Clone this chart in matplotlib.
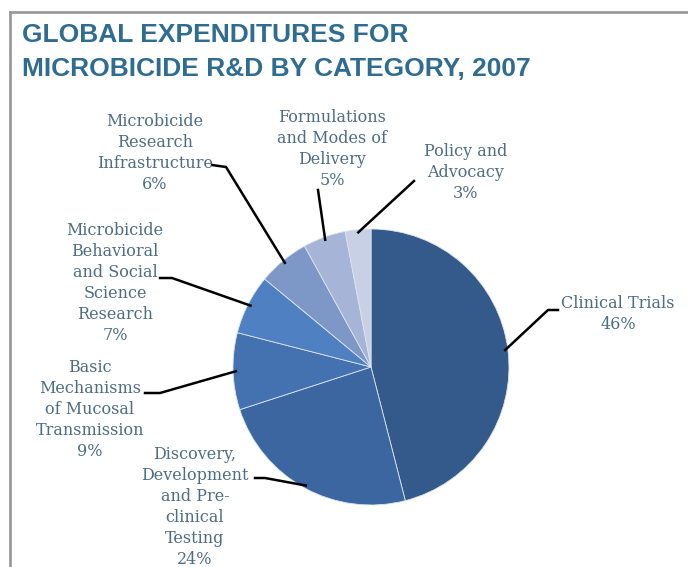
import numpy as np
import matplotlib
matplotlib.use("Agg")
import matplotlib.pyplot as plt

categories = [
    "Clinical Trials",
    "Discovery,\nDevelopment\nand Pre-\nclinical\nTesting",
    "Basic\nMechanisms\nof Mucosal\nTransmission",
    "Microbicide\nBehavioral\nand Social\nScience\nResearch",
    "Microbicide\nResearch\nInfrastructure",
    "Formulations\nand Modes of\nDelivery",
    "Policy and\nAdvocacy",
]
shares = [46, 24, 9, 7, 6, 5, 3]
colors = ["#335a8a", "#3b66a0", "#4471b0", "#4f80c2", "#7d97c7", "#a5b4d7", "#c8d0e5"]

# label layout in figure pixels (text top-centre, elbow start/end)
label_xy = [(618, 295), (195, 446), (90, 359), (115, 222), (155, 113), (332, 109), (466, 143)]
elbow = [((558, 310), (548, 310)), ((255, 478), (265, 478)), ((145, 393), (160, 393)),
         ((160, 278), (172, 278)), ((212, 165), (226, 167)), ((318, 190), (318, 190)),
         ((414, 181), (414, 181))]

W, H = 688, 567
CX, CY, R = 371, 367, 138

fig = plt.figure(figsize=(W / 100, H / 100), dpi=100)
fig.patch.set_facecolor("white")

ax = fig.add_axes([(CX - R) / W, (H - CY - R) / H, 2 * R / W, 2 * R / H])
wedges, _ = ax.pie(shares, colors=colors, startangle=90, counterclock=False,
                   wedgeprops=dict(edgecolor="#dde4ef", linewidth=0.6))
ax.set_xlim(-1, 1)
ax.set_ylim(-1, 1)
ax.set_aspect("equal")


def px2d(px, py):
    return (px - CX) / R, (CY - py) / R


txt_color = "#4d6d84"
for cat, share, w, (tx, ty), (p0, p1) in zip(categories, shares, wedges, label_xy, elbow):
    mid = np.deg2rad((w.theta1 + w.theta2) / 2)
    ex, ey = 0.98 * np.cos(mid), 0.98 * np.sin(mid)
    a = px2d(*p0)
    b = px2d(*p1)
    ax.plot([a[0], b[0], ex], [a[1], b[1], ey], color="black", lw=1.8, clip_on=False)
    x, y = px2d(tx, ty)
    ax.text(x, y, f"{cat}\n{share}%", ha="center", va="top", fontsize=11.5,
            family="DejaVu Serif", color=txt_color, linespacing=1.3, clip_on=False)

# frame lines of the original slide
fig.add_artist(plt.Line2D([10 / W, 10 / W], [0, 1 - 12 / H], color="#9a9a9a", lw=2))
fig.add_artist(plt.Line2D([10 / W, 1], [1 - 12 / H, 1 - 12 / H], color="#9a9a9a", lw=2))

fig.text(22 / W, 1 - 23 / H, "GLOBAL EXPENDITURES FOR\nMICROBICIDE R&D BY CATEGORY, 2007",
         ha="left", va="top", fontsize=19, fontweight="bold", family="Liberation Sans",
         color="#2f6c92", linespacing=1.52)

fig.savefig("out.png", dpi=100)
